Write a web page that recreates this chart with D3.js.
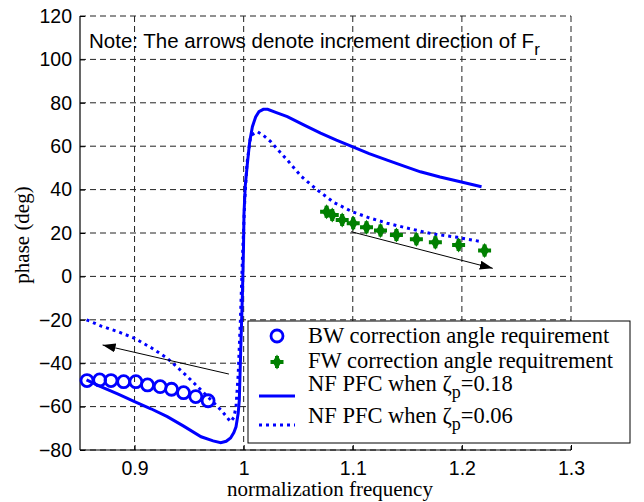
<!DOCTYPE html>
<html>
<head>
<meta charset="utf-8">
<script src="https://cdn.jsdelivr.net/npm/d3@7"></script>
<style>
  body { margin: 0; background: #fff; }
  svg { display: block; }
</style>
</head>
<body>
<svg id="chart" width="644" height="502"></svg>
<script>

// NF PFC, zeta_p = 0.18 (solid)
const freqSolid = [0.856,0.869,0.885,0.900,0.915,0.930,0.945,0.961,0.972,0.979,0.984,0.988,0.991,0.993,0.995,0.996,0.9973,0.9988,0.9998,1.0003,1.0015,1.0034,1.0055,1.008,1.011,1.014,1.018,1.022,1.030,1.040,1.055,1.0705,1.085,1.0995,1.115,1.1315,1.147,1.162,1.18,1.1986,1.218];
const phaseSolid = [-47.7,-50.8,-54.3,-57.7,-61.0,-64.6,-69.0,-73.9,-75.8,-76.6,-76.0,-74.5,-72.0,-69.3,-63,-57,-34,-9.3,12,29,42,52,62,69,73.5,75.9,77,77,75.5,73.6,69.8,66,62.8,59.8,56.6,53.6,50.8,48.2,45.8,43.6,41.3];

// NF PFC, zeta_p = 0.06 (dotted)
const freqDotted = [0.856,0.870,0.885,0.900,0.915,0.930,0.9485,0.967,0.980,0.988,0.991,0.993,0.995,0.997,0.999,1.001,1.003,1.0065,1.0126,1.018,1.025,1.032,1.040,1.053,1.0675,1.083,1.0995,1.115,1.1315,1.152,1.174,1.196,1.218];
const phaseDotted = [-20,-23,-25.5,-28.5,-32.8,-37.7,-46.2,-55.4,-62,-67,-65,-60,-45,-20,10,35,52,65,66.7,65,62,58,53.6,46,39.8,34,29.8,27,24.5,22,19.5,18,16];

// BW correction angle requirement (circles)
const freqBW = [0.8564,0.868,0.8784,0.890,0.9012,0.9119,0.9235,0.9339,0.9449,0.9561,0.9674];
const phaseBW = [-48.0,-47.7,-48.0,-48.5,-48.5,-50.0,-50.8,-52.0,-53.6,-55.4,-57.3];

// FW correction angle requirement (green stars)
const freqFW = [1.076,1.0812,1.0903,1.1004,1.1126,1.1254,1.140,1.1583,1.1757,1.197,1.2208];
const phaseFW = [29.8,28.3,26.0,24.5,22.6,21.1,19.1,17.1,15.7,14.5,11.9];

// arrows: [f0, p0, f1, p1] (tail -> head)
const arrowBW = [0.9865, -45, 0.8707, -31.6];
const arrowFW = [1.0985, 20.6, 1.2283, 3.7];

const xTicks = [0.9, 1, 1.1, 1.2, 1.3];
const yTicks = [-80, -60, -40, -20, 0, 20, 40, 60, 80, 100, 120];

const legendLabels = [
  "BW correction angle requirement",
  "FW correction angle requitrement",
  ["NF PFC when ", "ζ", "p", "=0.18"],
  ["NF PFC when ", "ζ", "p", "=0.06"]
];

const svg = d3.select("#chart");
const plotL = 80, plotR = 571, plotT = 16, plotB = 450;

const x = d3.scaleLinear().domain([0.85, 1.3]).range([plotL, plotR]);
const y = d3.scaleLinear().domain([-80, 120]).range([plotB, plotT]);

const sans = "'Liberation Sans', Arial, sans-serif";
const serif = "'Liberation Serif', 'Times New Roman', serif";

// grid
const grid = svg.append("g");
grid.selectAll("line.v")
  .data(xTicks)
  .enter().append("line")
  .attr("x1", d => x(d)).attr("x2", d => x(d))
  .attr("y1", plotT).attr("y2", plotB)
  .attr("stroke", "#222").attr("stroke-dasharray", "6,4");
grid.selectAll("line.h")
  .data(yTicks)
  .enter().append("line")
  .attr("x1", plotL).attr("x2", plotR)
  .attr("y1", d => y(d)).attr("y2", d => y(d))
  .attr("stroke", "#222").attr("stroke-dasharray", "6,4");

// axes
const xAxis = d3.axisBottom(x).tickValues(xTicks).tickSize(-5).tickPadding(11).tickFormat(d3.format("~g"));
const yAxis = d3.axisLeft(y).tickValues(yTicks).tickSize(-5).tickPadding(8);

const gx = svg.append("g").attr("transform", `translate(0,${plotB})`).call(xAxis);
const gy = svg.append("g").attr("transform", `translate(${plotL},0)`).call(yAxis);
[gx, gy].forEach(g => {
  g.select(".domain").attr("stroke", "#000").attr("stroke-width", 1.2);
  g.selectAll(".tick line").attr("stroke", "#000");
  g.selectAll(".tick text").attr("font-family", sans).attr("font-size", 19.5).attr("fill", "#000");
});
gx.select(".domain").attr("d", `M${plotL},0H${plotR}`);
gy.select(".domain").attr("d", `M0,${plotB}V${plotT}`);

// note
const note = svg.append("text")
  .attr("x", 89).attr("y", 48)
  .attr("font-family", sans).attr("font-size", 20.5).attr("fill", "#000")
  .text("Note: The arrows denote increment direction of F");
note.append("tspan").attr("dy", 7).attr("font-size", 17).text("r");

// curves
const line = d3.line().x(d => x(d[0])).y(d => y(d[1]));
svg.append("path")
  .datum(d3.zip(freqSolid, phaseSolid))
  .attr("d", line)
  .attr("fill", "none").attr("stroke", "#0000ff").attr("stroke-width", 3);
svg.append("path")
  .datum(d3.zip(freqDotted, phaseDotted))
  .attr("d", line)
  .attr("fill", "none").attr("stroke", "#0000ff").attr("stroke-width", 3)
  .attr("stroke-dasharray", "3,4");

// BW circles
svg.append("g").selectAll("circle")
  .data(d3.zip(freqBW, phaseBW))
  .enter().append("circle")
  .attr("cx", d => x(d[0])).attr("cy", d => y(d[1])).attr("r", 6)
  .attr("fill", "none").attr("stroke", "#0000ff").attr("stroke-width", 2.8);

// FW star markers
function star(g) {
  g.append("path").attr("d", "M0,-7.5L4.5,0L0,7.5L-4.5,0Z").attr("fill", "#008000");
  g.append("path").attr("d", "M-6.5,0H6.5M0,-6V6").attr("stroke", "#008000").attr("stroke-width", 4);
}
svg.append("g").selectAll("g")
  .data(d3.zip(freqFW, phaseFW))
  .enter().append("g")
  .attr("transform", d => `translate(${x(d[0])},${y(d[1])})`)
  .each(function() { star(d3.select(this)); });

// arrows
svg.append("defs").append("marker")
  .attr("id", "head").attr("viewBox", "0 0 13 9")
  .attr("refX", 13).attr("refY", 4.5)
  .attr("markerWidth", 13).attr("markerHeight", 9)
  .attr("markerUnits", "userSpaceOnUse")
  .attr("orient", "auto")
  .append("path").attr("d", "M0,0L13,4.5L0,9Z").attr("fill", "#000");
[arrowBW, arrowFW].forEach(a => {
  svg.append("line")
    .attr("x1", x(a[0])).attr("y1", y(a[1]))
    .attr("x2", x(a[2])).attr("y2", y(a[3]))
    .attr("stroke", "#000").attr("stroke-width", 1)
    .attr("marker-end", "url(#head)");
});

// legend
const lg = svg.append("g");
lg.append("rect")
  .attr("x", 248).attr("y", 321).attr("width", 382).attr("height", 122)
  .attr("fill", "#fff").attr("stroke", "#000").attr("stroke-width", 1);
lg.append("circle").attr("cx", 277).attr("cy", 336).attr("r", 6)
  .attr("fill", "none").attr("stroke", "#0000ff").attr("stroke-width", 2.8);
star(lg.append("g").attr("transform", "translate(277,362)"));
lg.append("line").attr("x1", 259).attr("x2", 295).attr("y1", 396).attr("y2", 396)
  .attr("stroke", "#0000ff").attr("stroke-width", 3);
lg.append("line").attr("x1", 259).attr("x2", 295).attr("y1", 425).attr("y2", 425)
  .attr("stroke", "#0000ff").attr("stroke-width", 3).attr("stroke-dasharray", "3,4");

const baselines = [343, 368, 391, 423];
legendLabels.forEach((lab, i) => {
  const t = lg.append("text")
    .attr("x", 308).attr("y", baselines[i])
    .attr("font-family", serif).attr("font-size", 22.5).attr("fill", "#000");
  if (typeof lab === "string") {
    t.text(lab);
  } else {
    t.append("tspan").text(lab[0]);
    t.append("tspan").text(lab[1]);
    t.append("tspan").attr("dy", 7).attr("font-size", 18).text(lab[2]);
    t.append("tspan").attr("dy", -7).text(lab[3]);
  }
});

// axis labels
svg.append("text")
  .attr("x", 330).attr("y", 496)
  .attr("text-anchor", "middle")
  .attr("font-family", serif).attr("font-size", 21)
  .text("normalization frequency");
svg.append("text")
  .attr("transform", "translate(29,235) rotate(-90)")
  .attr("text-anchor", "middle")
  .attr("font-family", serif).attr("font-size", 21)
  .text("phase (deg)");

</script>
</body>
</html>
